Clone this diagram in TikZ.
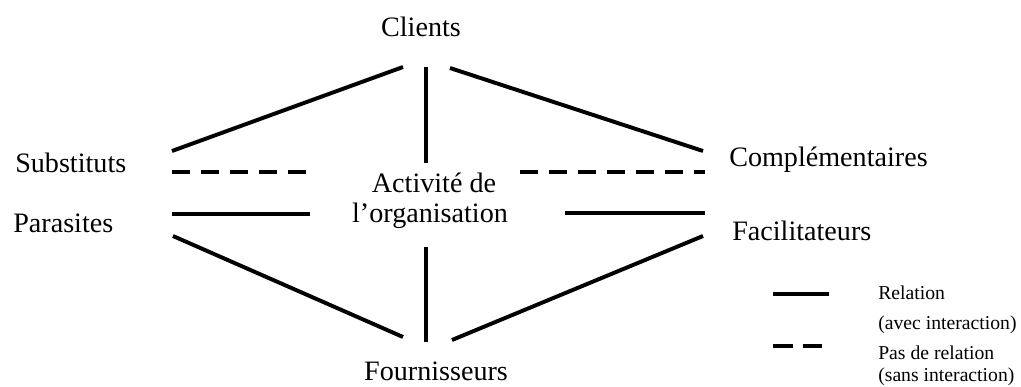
\documentclass[tikz,border=0pt]{standalone}
\usepackage{fontspec}
\setmainfont{Liberation Serif}
\begin{document}
\begin{tikzpicture}[x=0.025cm,y=-0.025cm,
  lbl/.style={inner sep=0pt,font=\fontsize{20}{21}\selectfont},
  leg/.style={inner sep=0pt,anchor=base west,font=\fontsize{14}{15}\selectfont},
  lien/.style={line width=2.8pt},
  nolien/.style={line width=2.8pt,dash pattern=on 12.8pt off 7.8pt}]
\useasboundingbox (0,0) rectangle (1021,387);
% acteurs
\node[lbl,anchor=base] (clients) at (421,37) {Clients};
\node[lbl,anchor=base] (fourn) at (436,380) {Fournisseurs};
\node[lbl,anchor=base west] (subst) at (15,173) {Substituts};
\node[lbl,anchor=base west] (paras) at (13,232) {Parasites};
\node[lbl,anchor=base west] (compl) at (729,166) {Complémentaires};
\node[lbl,anchor=base west] (facil) at (732,240) {Facilitateurs};
\node[lbl,anchor=base] (activ) at (434,192) {Activité de};
\node[lbl,anchor=base] (orga) at (430,222) {l’organisation};
% bouts des liens
\foreach \n/\p in {cs1/{172,151}, cs2/{403,67}, cv1/{426,67}, cv2/{426,163},
    cc1/{450,68}, cc2/{703,151}, sd1/{172,172}, sd2/{306,172},
    pd1/{172,214}, pd2/{310,214}, cd1/{520,172}, cd2/{705,172},
    fd1/{565,213}, fd2/{705,213}, fp1/{173,236}, fp2/{403,337},
    fv1/{426,247}, fv2/{426,342}, ff1/{703,236}, ff2/{452,340}}
  \coordinate (\n) at (\p);
\foreach \a/\b in {cs1/cs2, cc1/cc2, pd1/pd2, fd1/fd2, fp1/fp2, ff1/ff2}
  \draw[lien] (\a) -- (\b);
\draw[lien,line width=3.5pt] (cv1) -- (cv2);
\draw[lien,line width=3.5pt] (fv1) -- (fv2);
\draw[nolien] (sd1) -- (sd2);
\draw[nolien] (cd1) -- (cd2);
% legende
\coordinate (l1) at (773,294);
\coordinate (l2) at (829,294);
\coordinate (l3) at (773,346);
\coordinate (l4) at (822,346);
\draw[lien] (l1) -- (l2);
\draw[lien,dash pattern=on 14.2pt off 7.1pt] (l3) -- (l4);
\node[leg] (rel) at (878,299) {Relation};
\node[leg] (avec) at (878,329) {(avec interaction)};
\node[leg] (pas) at (878,359) {Pas de relation};
\node[leg] (sans) at (878,381) {(sans interaction)};
\end{tikzpicture}
\end{document}
